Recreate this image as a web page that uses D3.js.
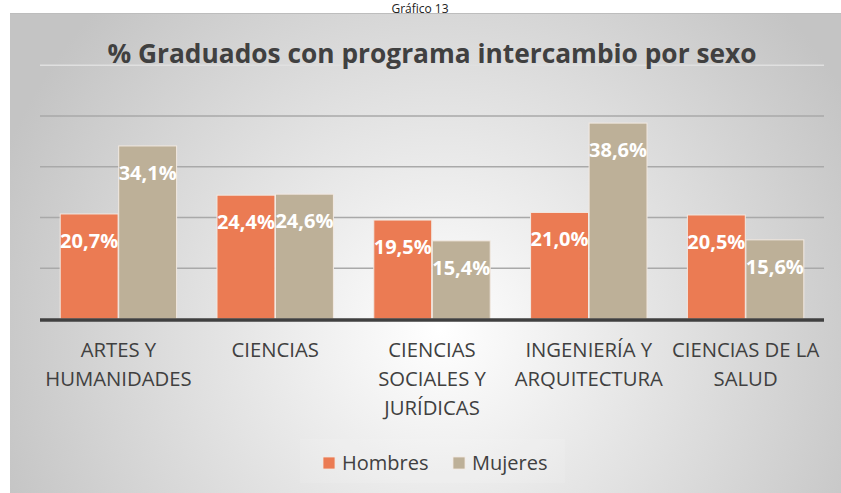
<!DOCTYPE html>
<html>
<head>
<meta charset="utf-8">
<script src="https://cdn.jsdelivr.net/npm/d3@7.9.0/dist/d3.min.js"></script>
<style>
  html, body { margin: 0; padding: 0; background: #fff; }
  svg { display: block; font-family: 'Open Sans', sans-serif; }
</style>
</head>
<body>
<svg id="chart" width="841" height="493"></svg>
<script>
const categories = [
  ['ARTES Y', 'HUMANIDADES'],
  ['CIENCIAS'],
  ['CIENCIAS', 'SOCIALES Y', 'JURÍDICAS'],
  ['INGENIERÍA Y', 'ARQUITECTURA'],
  ['CIENCIAS DE LA', 'SALUD']
];
const series = ['Hombres', 'Mujeres'];
const hombres = [20.7, 24.4, 19.5, 21.0, 20.5];
const mujeres = [34.1, 24.6, 15.4, 38.6, 15.6];
const yTicks = [10, 20, 30, 40, 50];
const colors = ['#eb7b53', '#bdb098'];

const width = 841, height = 493;
const plot = { left: 40, right: 824, top: 65.25, bottom: 319 };

const svg = d3.select('#chart');

// background panel with soft radial shading
const defs = svg.append('defs');
const grad = defs.append('radialGradient')
  .attr('id', 'bg')
  .attr('gradientUnits', 'userSpaceOnUse')
  .attr('cx', 440).attr('cy', 330).attr('r', 470);
grad.append('stop').attr('offset', '0%').attr('stop-color', '#ffffff');
grad.append('stop').attr('offset', '100%').attr('stop-color', '#c4c4c4');

svg.append('rect')
  .attr('x', 10).attr('y', 13)
  .attr('width', width - 10).attr('height', height - 13)
  .attr('fill', 'url(#bg)');
svg.append('line')
  .attr('x1', 10).attr('x2', width).attr('y1', 13.5).attr('y2', 13.5)
  .attr('stroke', '#bdbdbd').attr('stroke-width', 1);

svg.append('text')
  .attr('x', 420).attr('y', 12.5)
  .attr('text-anchor', 'middle')
  .style('font-size', '12px')
  .style('fill', '#222')
  .text('Gráfico 13');

const x0 = d3.scaleBand()
  .domain(d3.range(categories.length))
  .range([plot.left, plot.right])
  .paddingInner(0.25)
  .paddingOuter(0.125);

const x1 = d3.scaleBand()
  .domain(series)
  .range([0, x0.bandwidth()])
  .padding(0.01);

const y = d3.scaleLinear()
  .domain([0, 50])
  .range([plot.bottom, plot.top]);

// gridlines
svg.append('g')
  .selectAll('line')
  .data(yTicks)
  .join('line')
  .attr('x1', plot.left).attr('x2', plot.right)
  .attr('y1', d => y(d)).attr('y2', d => y(d))
  .attr('stroke', d => d === 50 ? '#e0e0e0' : '#a9a9a9')
  .attr('stroke-width', 1.5);

// title
svg.append('text')
  .attr('x', 432).attr('y', 63)
  .attr('text-anchor', 'middle')
  .style('font-size', '26.3px')
  .style('font-weight', 'bold')
  .style('fill', '#404040')
  .text('% Graduados con programa intercambio por sexo');

const rows = categories.map((c, i) => ({ i, values: [hombres[i], mujeres[i]] }));

const groups = svg.append('g')
  .selectAll('g')
  .data(rows)
  .join('g')
  .attr('transform', d => `translate(${x0(d.i)},0)`);

groups.selectAll('rect')
  .data(d => d.values.map((v, k) => ({ key: series[k], v, k })))
  .join('rect')
  .attr('x', d => x1(d.key))
  .attr('y', d => y(d.v))
  .attr('width', x1.bandwidth())
  .attr('height', d => y(0) - y(d.v))
  .attr('fill', d => colors[d.k])
  .attr('stroke', '#f2e9e2')
  .attr('stroke-width', 1);

groups.selectAll('text.val')
  .data(d => d.values.map((v, k) => ({ key: series[k], v, k })))
  .join('text')
  .attr('class', 'val')
  .attr('x', d => x1(d.key) + x1.bandwidth() / 2)
  .attr('y', d => y(d.v) + 34)
  .attr('text-anchor', 'middle')
  .style('font-size', '20px')
  .style('font-weight', 'bold')
  .style('fill', '#fff')
  .text(d => d3.format('.1f')(d.v).replace('.', ',') + '%');

// axis line
svg.append('line')
  .attr('x1', plot.left).attr('x2', plot.right)
  .attr('y1', y(0) + 1).attr('y2', y(0) + 1)
  .attr('stroke', '#404040')
  .attr('stroke-width', 3.5);

// category labels
const cat = svg.append('g')
  .selectAll('text')
  .data(categories)
  .join('text')
  .attr('x', (d, i) => x0(i) + x0.bandwidth() / 2)
  .attr('y', 357)
  .attr('text-anchor', 'middle')
  .style('font-size', '20.3px')
  .style('fill', '#404040');
cat.selectAll('tspan')
  .data(d => d)
  .join('tspan')
  .attr('x', function () { return this.parentNode.getAttribute('x'); })
  .attr('dy', (d, i) => i === 0 ? 0 : 29)
  .text(d => d);

// legend
const legend = svg.append('g');
legend.append('rect')
  .attr('x', 300).attr('y', 439)
  .attr('width', 265).attr('height', 44)
  .attr('fill', '#fff').attr('opacity', 0.1);
const legendX = [323, 453];
const li = legend.selectAll('g.item')
  .data(series)
  .join('g')
  .attr('class', 'item')
  .attr('transform', (d, i) => `translate(${legendX[i]},457)`);
li.append('rect')
  .attr('width', 12).attr('height', 12)
  .attr('fill', (d, i) => colors[i])
  .attr('stroke', '#f2e9e2').attr('stroke-width', 0.8);
li.append('text')
  .attr('x', 19).attr('y', 12.5)
  .style('font-size', '20px')
  .style('fill', '#404040')
  .text(d => d);
</script>
</body>
</html>
